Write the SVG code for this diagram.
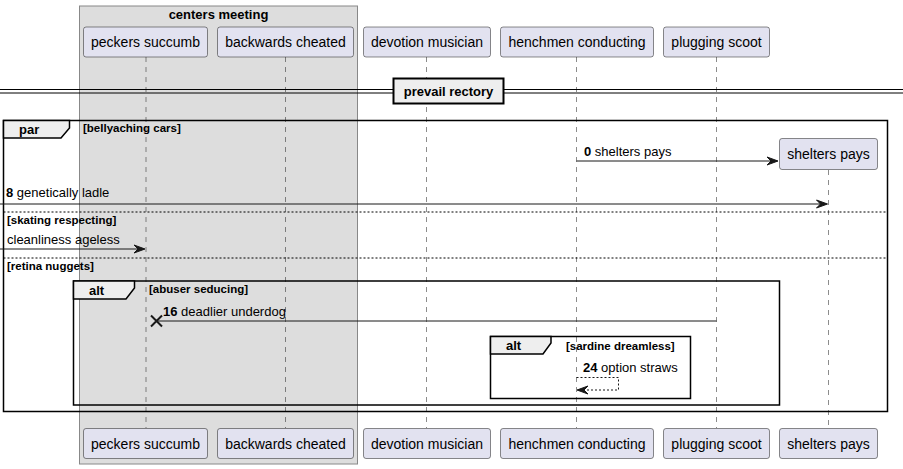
<svg xmlns="http://www.w3.org/2000/svg" width="903" height="469" viewBox="0 0 903 469">
<style>
text{font-family:"Liberation Sans",Arial,sans-serif;fill:#000}
.p rect{fill:#E2E2F0;stroke:#181818;stroke-width:0.5}
.p text{font-size:14px;text-anchor:middle}
.ll{stroke:#181818;stroke-width:0.5;stroke-dasharray:5,5}
.fr{fill:none;stroke:#000;stroke-width:1.5}
.tab{fill:#EEEEEE;stroke:#000;stroke-width:1.5}
.kw{font-size:13px;font-weight:bold}
.gd{font-size:11.5px;font-weight:bold}
.sep{stroke:#000;stroke-width:1;stroke-dasharray:2,2}
.msg{stroke:#181818;stroke-width:1;fill:none}
.ml{font-size:13px}
.ah{fill:#181818;stroke:#181818}
</style>
<g id="box-centers-meeting">
<rect x="79.5" y="6" width="278" height="458" fill="#DDDDDD" stroke="#888888" stroke-width="1"/>
<text x="218.5" y="19" font-size="13" font-weight="bold" text-anchor="middle">centers meeting</text>
</g>
<g id="lifelines">
<line class="ll" x1="146" y1="57" x2="146" y2="428"/>
<line class="ll" x1="285.5" y1="57" x2="285.5" y2="428"/>
<line class="ll" x1="426.5" y1="57" x2="426.5" y2="428"/>
<line class="ll" x1="576.5" y1="57" x2="576.5" y2="428"/>
<line class="ll" x1="716.5" y1="57" x2="716.5" y2="428"/>
<line class="ll" x1="828.5" y1="170" x2="828.5" y2="428"/>
</g>
<g id="divider">
<line x1="0" y1="89.5" x2="903" y2="89.5" stroke="#000" stroke-width="1"/>
<line x1="0" y1="93" x2="903" y2="93" stroke="#000" stroke-width="1"/>
<rect x="393.5" y="78.5" width="110" height="25" fill="#EEEEEE" stroke="#000" stroke-width="2"/>
<text x="448.5" y="96" font-size="13" font-weight="bold" text-anchor="middle">prevail rectory</text>
</g>
<g id="frame-par">
<rect class="fr" x="3.5" y="120.5" width="884" height="291"/>
<path class="tab" d="M3.5,120.5 H69.5 V128 L61,138 H3.5 Z"/>
<text class="kw" x="19" y="134">par</text>
<text class="gd" x="83" y="132">[bellyaching cars]</text>
<line class="sep" x1="3.5" y1="212" x2="887.5" y2="212"/>
<text class="gd" x="7" y="224">[skating respecting]</text>
<line class="sep" x1="3.5" y1="258" x2="887.5" y2="258"/>
<text class="gd" x="7" y="270">[retina nuggets]</text>
</g>
<g id="frame-alt1">
<rect class="fr" x="73.5" y="281" width="706" height="124"/>
<path class="tab" d="M73.5,281 H134.5 V288 L126,299 H73.5 Z"/>
<text class="kw" x="89" y="295">alt</text>
<text class="gd" x="149" y="293">[abuser seducing]</text>
</g>
<g id="frame-alt2">
<rect class="fr" x="490.5" y="336.5" width="200" height="62"/>
<path class="tab" d="M490.5,336.5 H551 V343 L543,354 H490.5 Z"/>
<text class="kw" x="506" y="350">alt</text>
<text class="gd" x="566" y="350">[sardine dreamless]</text>
</g>
<g id="connectors">
<g id="m0">
<line class="msg" x1="576.5" y1="161" x2="777" y2="161"/>
<path class="ah" d="M778,161 L767,157 L771,161 L767,165 Z"/>
<text class="ml" x="584" y="156"><tspan font-weight="bold">0</tspan> shelters pays</text>
</g>
<g id="m8">
<line class="msg" x1="0" y1="204" x2="826" y2="204"/>
<path class="ah" d="M827.5,204 L816.5,200 L820.5,204 L816.5,208 Z"/>
<text class="ml" x="6" y="197"><tspan font-weight="bold">8</tspan> genetically ladle</text>
</g>
<g id="m-cleanliness">
<line class="msg" x1="0" y1="249" x2="144" y2="249"/>
<path class="ah" d="M145,249 L134,245 L138,249 L134,253 Z"/>
<text class="ml" x="7" y="244">cleanliness ageless</text>
</g>
<g id="m16">
<line class="msg" x1="716.5" y1="321" x2="157" y2="321"/>
<path d="M151,315.5 L162,326.5 M162,315.5 L151,326.5" stroke="#181818" stroke-width="2" fill="none"/>
<text class="ml" x="163" y="316"><tspan font-weight="bold">16</tspan> deadlier underdog</text>
</g>
<g id="m24">
<path d="M576.5,377.5 H618.5 V390 H578" stroke="#181818" stroke-width="1" fill="none" stroke-dasharray="2,2"/>
<path class="ah" d="M577,390 L588,386 L584,390 L588,394 Z"/>
<text class="ml" x="583" y="372"><tspan font-weight="bold">24</tspan> option straws</text>
</g>
</g>
<g id="p-peckers-succumb" class="p">
<rect x="83.5" y="27" width="124" height="30" rx="2.5"/>
<text x="145.5" y="47">peckers succumb</text>
<rect x="83.5" y="428.5" width="124" height="30" rx="2.5"/>
<text x="145.5" y="449">peckers succumb</text>
</g>
<g id="p-backwards-cheated" class="p">
<rect x="217.5" y="27" width="136" height="30" rx="2.5"/>
<text x="285.5" y="47">backwards cheated</text>
<rect x="217.5" y="428.5" width="136" height="30" rx="2.5"/>
<text x="285.5" y="449">backwards cheated</text>
</g>
<g id="p-devotion-musician" class="p">
<rect x="363.5" y="27" width="127" height="30" rx="2.5"/>
<text x="427" y="47">devotion musician</text>
<rect x="363.5" y="428.5" width="127" height="30" rx="2.5"/>
<text x="427" y="449">devotion musician</text>
</g>
<g id="p-henchmen-conducting" class="p">
<rect x="500.5" y="27" width="153" height="30" rx="2.5"/>
<text x="577" y="47">henchmen conducting</text>
<rect x="500.5" y="428.5" width="153" height="30" rx="2.5"/>
<text x="577" y="449">henchmen conducting</text>
</g>
<g id="p-plugging-scoot" class="p">
<rect x="663.5" y="27" width="106" height="30" rx="2.5"/>
<text x="716.5" y="47">plugging scoot</text>
<rect x="663.5" y="428.5" width="106" height="30" rx="2.5"/>
<text x="716.5" y="449">plugging scoot</text>
</g>
<g id="p-shelters-pays" class="p">
<rect x="779.5" y="138.5" width="98" height="31" rx="2.5"/>
<text x="828.5" y="159">shelters pays</text>
<rect x="779.5" y="428.5" width="98" height="30" rx="2.5"/>
<text x="828.5" y="449">shelters pays</text>
</g>
</svg>
